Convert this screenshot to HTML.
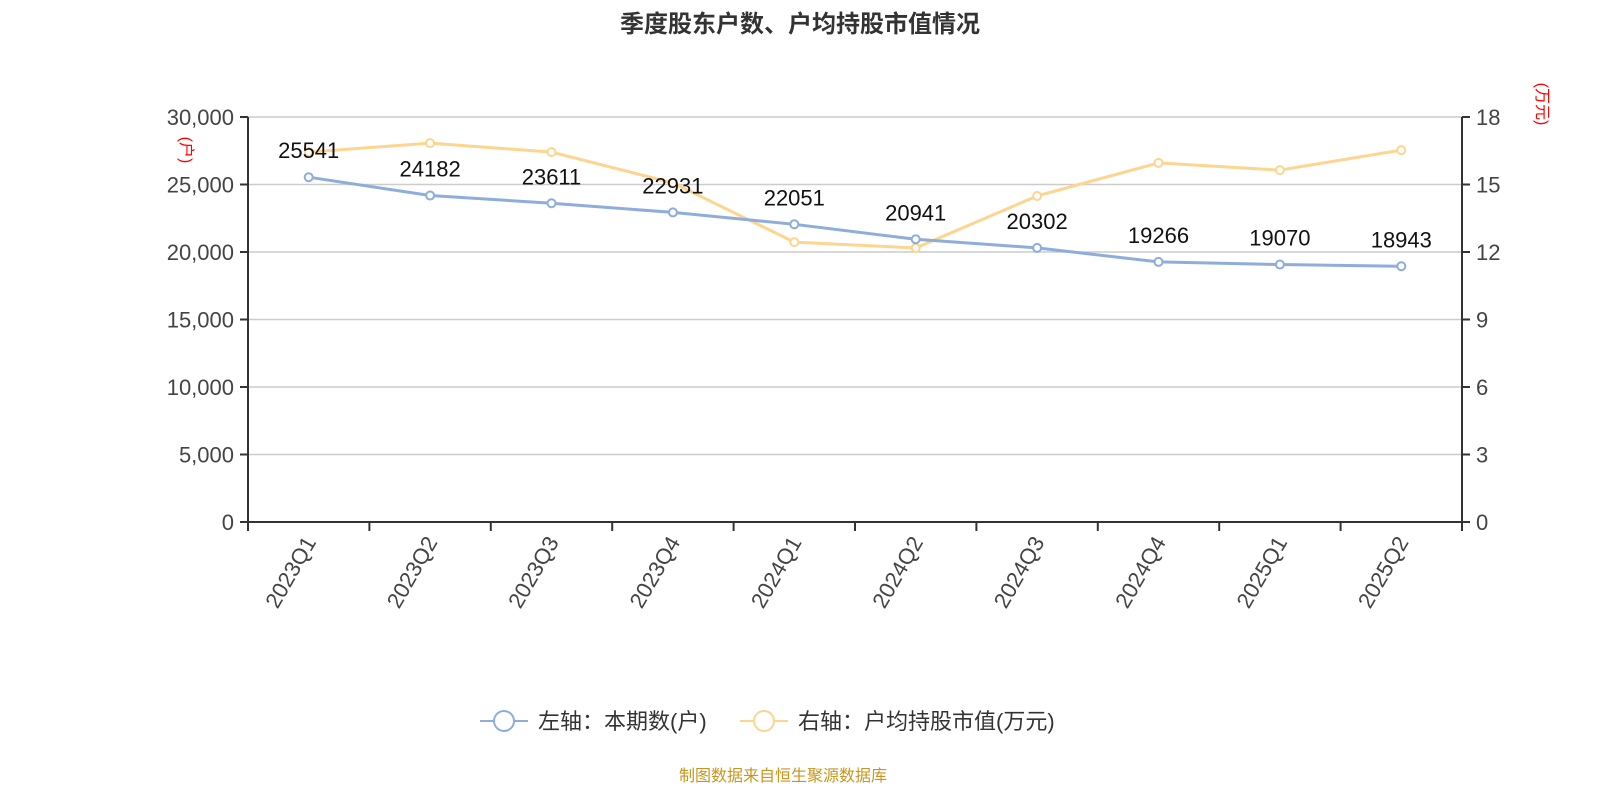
<!DOCTYPE html>
<html><head><meta charset="utf-8"><style>
body{margin:0;background:#fff;}
svg{display:block;font-family:"Liberation Sans","Noto Sans CJK SC",sans-serif;}
</style></head><body>
<svg id="c" width="1600" height="800"></svg>
<script>
const categories=["2023Q1","2023Q2","2023Q3","2023Q4","2024Q1","2024Q2","2024Q3","2024Q4","2025Q1","2025Q2"];
const holders=[25541,24182,23611,22931,22051,20941,20302,19266,19070,18943];
const avgValue=[16.44,16.84,16.44,15.07,12.44,12.18,14.49,15.96,15.64,16.53];
const leftTicks=[0,5000,10000,15000,20000,25000,30000];
const rightTicks=[0,3,6,9,12,15,18];
const svg=document.getElementById('c');
const NS='http://www.w3.org/2000/svg';
const X0=248,X1=1462,Y0=522,Y1=117;
const bw=(X1-X0)/categories.length;
const xs=i=>X0+bw*(i+0.5);
const yl=v=>Y0-(v/30000)*(Y0-Y1);
const yr=v=>Y0-(v/18)*(Y0-Y1);
function el(t,a,txt){const e=document.createElementNS(NS,t);for(const k in a)e.setAttribute(k,a[k]);if(txt!==undefined)e.textContent=txt;svg.appendChild(e);return e;}
let e;
e=el('text',{x:800,y:32,'text-anchor':'middle','font-size':24,'font-weight':'bold',fill:'#333'},'季度股东户数、户均持股市值情况');

leftTicks.forEach(v=>{const y=yl(v);
 if(v>0){e=el('line',{x1:X0,x2:X1,y1:y,y2:y,stroke:'#ccc','stroke-width':1.5});}
 el('line',{x1:X0-8,x2:X0,y1:y,y2:y,stroke:'#333','stroke-width':2});
 e=el('text',{x:X0-14,y:y+8,'text-anchor':'end','font-size':22,fill:'#444'},v.toLocaleString('en-US'));
 });
rightTicks.forEach(v=>{const y=yr(v);
 el('line',{x1:X1,x2:X1+8,y1:y,y2:y,stroke:'#333','stroke-width':2});
 e=el('text',{x:X1+14,y:y+8,'font-size':22,fill:'#444'},String(v));
 });
el('line',{x1:X0,x2:X0,y1:Y1,y2:Y0,stroke:'#333','stroke-width':2});
el('line',{x1:X1,x2:X1,y1:Y1,y2:Y0,stroke:'#333','stroke-width':2});
el('line',{x1:X0,x2:X1,y1:Y0,y2:Y0,stroke:'#333','stroke-width':2});
e=el('text',{x:0,y:0,'font-size':16,fill:'red',transform:'translate(181,150) rotate(90)','text-anchor':'middle'},'(户)');

e=el('text',{x:0,y:0,'font-size':16,fill:'red',transform:'translate(1537,104) rotate(90)','text-anchor':'middle'},'(万元)');

for(let i=0;i<=categories.length;i++){const x=X0+bw*i;el('line',{x1:x,x2:x,y1:Y0,y2:Y0+9,stroke:'#333','stroke-width':2});}
categories.forEach((c,i)=>{const x=xs(i);
 e=el('text',{x:0,y:0,'font-size':22,fill:'#444','text-anchor':'end',transform:`translate(${x+8},${Y0+20}) rotate(-60)`},c);
 });
function series(vals,yf,color,name,labels){
 e=el('polyline',{points:vals.map((v,i)=>xs(i)+','+yf(v)).join(' '),fill:'none',stroke:color,'stroke-width':3});
 
 vals.forEach((v,i)=>{e=el('circle',{cx:xs(i),cy:yf(v),r:4,fill:'#fff',stroke:color,'stroke-width':2});
  
  if(labels){e=el('text',{x:xs(i),y:yf(v)-19,'text-anchor':'middle','font-size':22,fill:'#111'},String(v));
   }});
}
series(avgValue,yr,'#fdd58f','avg-value',false);
series(holders,yl,'#8eacdc','holders',true);
// legend
el('line',{x1:480,x2:528,y1:721,y2:721,stroke:'#8eacdc','stroke-width':2});
e=el('circle',{cx:504,cy:721,r:10,fill:'#fff',stroke:'#8eacdc','stroke-width':2});

e=el('text',{x:538,y:729,'font-size':22,fill:'#333'},'左轴：本期数(户)');

el('line',{x1:740,x2:788,y1:721,y2:721,stroke:'#fdd58f','stroke-width':2});
e=el('circle',{cx:764,cy:721,r:10,fill:'#fff',stroke:'#fdd58f','stroke-width':2});

e=el('text',{x:798,y:729,'font-size':22,fill:'#333'},'右轴：户均持股市值(万元)');

e=el('text',{x:783,y:781,'text-anchor':'middle','font-size':16,fill:'#c8961e'},'制图数据来自恒生聚源数据库');

</script>
</body></html>
